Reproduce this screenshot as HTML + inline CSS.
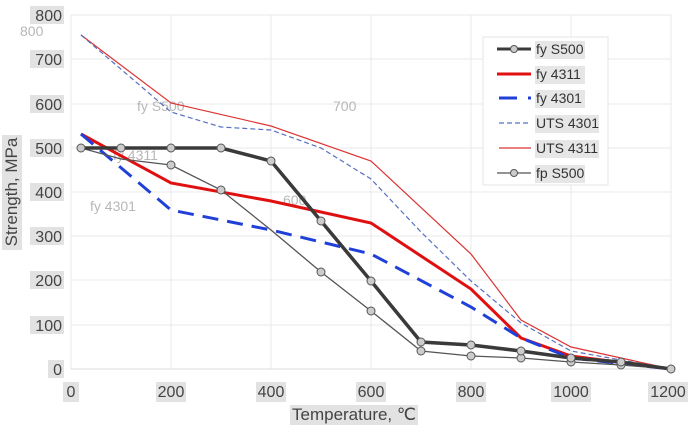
<!DOCTYPE html><html><head><style>body{margin:0;background:#fff}svg{display:block}text{font-family:"Liberation Sans",sans-serif}</style></head><body>
<svg width="690" height="425" viewBox="0 0 690 425">
<g fill="#e2e2e2">
<rect x="30" y="6" width="34" height="18"/><rect x="30" y="50" width="34" height="18"/><rect x="30" y="95" width="34" height="18"/><rect x="30" y="139" width="34" height="18"/><rect x="30" y="183" width="34" height="18"/><rect x="30" y="227" width="34" height="18"/><rect x="30" y="271" width="34" height="18"/><rect x="30" y="316" width="34" height="18"/><rect x="48" y="360" width="16" height="18"/>
<rect x="63" y="382" width="16" height="20"/><rect x="156" y="382" width="30" height="20"/><rect x="256" y="382" width="30" height="20"/><rect x="356" y="382" width="30" height="20"/><rect x="456" y="382" width="30" height="20"/><rect x="551" y="382" width="40" height="20"/><rect x="648" y="382" width="40" height="20"/>
<rect x="290" y="405" width="128" height="20"/><rect x="2" y="135" width="20" height="115"/>
</g>
<g stroke="#e8e8e8" stroke-width="1">
<line x1="71" y1="15" x2="671" y2="15"/><line x1="71" y1="59" x2="671" y2="59"/><line x1="71" y1="104" x2="671" y2="104"/><line x1="71" y1="148" x2="671" y2="148"/><line x1="71" y1="192" x2="671" y2="192"/><line x1="71" y1="236" x2="671" y2="236"/><line x1="71" y1="280" x2="671" y2="280"/><line x1="71" y1="325" x2="671" y2="325"/>
<line x1="71" y1="15" x2="71" y2="369"/><line x1="171" y1="15" x2="171" y2="369"/><line x1="271" y1="15" x2="271" y2="369"/><line x1="371" y1="15" x2="371" y2="369"/><line x1="471" y1="15" x2="471" y2="369"/><line x1="571" y1="15" x2="571" y2="369"/><line x1="671" y1="15" x2="671" y2="369"/>
</g>
<line x1="71" y1="369" x2="671" y2="369" stroke="#ddd"/>
<g font-size="16" fill="#444" text-anchor="end">
<text x="62" y="21">800</text><text x="62" y="65">700</text><text x="62" y="110">600</text><text x="62" y="154">500</text><text x="62" y="198">400</text><text x="62" y="242">300</text><text x="62" y="286">200</text><text x="62" y="331">100</text><text x="62" y="375">0</text>
</g>
<g font-size="16" fill="#444" text-anchor="middle">
<text x="71" y="397">0</text><text x="171" y="397">200</text><text x="271" y="397">400</text><text x="371" y="397">600</text><text x="471" y="397">800</text><text x="571" y="397">1000</text><text x="668" y="397">1200</text>
<text x="354" y="420" font-size="17">Temperature, ℃</text>
</g>
<text transform="translate(17,192) rotate(-90)" font-size="17" fill="#444" text-anchor="middle">Strength, MPa</text>
<g font-size="14" fill="#888" opacity="0.6">
<text x="20" y="36">800</text><text x="137" y="111">fy S500</text><text x="113" y="160">fy 4311</text><text x="90" y="211">fy 4301</text><text x="283" y="205">600</text><text x="333" y="111">700</text>
</g>
<polyline fill="none" stroke="#d33" stroke-width="1.2" points="81,35 171,103 271,126 371,161 471,254 521,320 571,347 671,369"/>
<polyline fill="none" stroke="#5670c0" stroke-width="1.2" stroke-dasharray="5,3" points="81,35 171,112 221,127 271,130 321,148 371,179 421,232 471,281 521,323 571,351 671,369"/>
<polyline fill="none" stroke="#e01010" stroke-width="3" points="81,134 171,183 271,201 371,223 471,289 521,338 571,356 671,369"/>
<polyline fill="none" stroke="#2040d8" stroke-width="3" stroke-dasharray="16,9" points="81,134 171,210 271,230 371,254 471,307 521,338 571,358 671,369"/>
<polyline fill="none" stroke="#555" stroke-width="1.3" points="81,148 121,159 171,165 221,190 271,230 321,272 371,311 421,351 471,356 521,358 571,362 621,365 671,369"/>
<polyline fill="none" stroke="#3a3a3a" stroke-width="3.5" points="81,148 121,148 171,148 221,148 271,161 321,221 371,281 421,342 471,345 521,351 571,358 621,362 671,369"/>
<g fill="#ccc" stroke="#555" stroke-width="1">
<circle cx="171" cy="165" r="4"/><circle cx="221" cy="190" r="4"/><circle cx="321" cy="272" r="4"/><circle cx="371" cy="311" r="4"/><circle cx="421" cy="351" r="4"/><circle cx="471" cy="356" r="4"/><circle cx="521" cy="358" r="4"/><circle cx="571" cy="362" r="4"/><circle cx="621" cy="365" r="4"/>
<circle cx="81" cy="148" r="4"/><circle cx="121" cy="148" r="4"/><circle cx="171" cy="148" r="4"/><circle cx="221" cy="148" r="4"/><circle cx="271" cy="161" r="4"/><circle cx="321" cy="221" r="4"/><circle cx="371" cy="281" r="4"/><circle cx="421" cy="342" r="4"/><circle cx="471" cy="345" r="4"/><circle cx="521" cy="351" r="4"/><circle cx="571" cy="358" r="4"/><circle cx="621" cy="362" r="4"/><circle cx="671" cy="369" r="4"/>
</g>
<rect x="483" y="37" width="125" height="148" fill="#fff" stroke="#e4e4e4"/>
<g fill="#e6e6e6"><rect x="535" y="41" width="50" height="18"/><rect x="535" y="66" width="50" height="18"/><rect x="535" y="90" width="50" height="18"/><rect x="535" y="115" width="64" height="18"/><rect x="535" y="140" width="64" height="18"/><rect x="535" y="165" width="50" height="18"/></g>
<g font-size="14" fill="#333">
<line x1="497" y1="49" x2="531" y2="49" stroke="#3a3a3a" stroke-width="3"/><circle cx="514" cy="49" r="3.5" fill="#ccc" stroke="#555"/><text x="536" y="54">fy S500</text>
<line x1="497" y1="74" x2="531" y2="74" stroke="#e01010" stroke-width="3"/><text x="536" y="79">fy 4311</text>
<line x1="499" y1="98" x2="517" y2="98" stroke="#2040d8" stroke-width="3"/><line x1="528" y1="98" x2="531" y2="98" stroke="#2040d8" stroke-width="3"/><text x="536" y="103">fy 4301</text>
<line x1="499" y1="123" x2="531" y2="123" stroke="#5670c0" stroke-width="1.2" stroke-dasharray="5,3"/><text x="536" y="128">UTS 4301</text>
<line x1="499" y1="148" x2="531" y2="148" stroke="#d33" stroke-width="1.2"/><text x="536" y="153">UTS 4311</text>
<line x1="497" y1="173" x2="531" y2="173" stroke="#555" stroke-width="1.3"/><circle cx="514" cy="173" r="3.5" fill="#ccc" stroke="#555"/><text x="536" y="178">fp S500</text>
</g>
</svg></body></html>
